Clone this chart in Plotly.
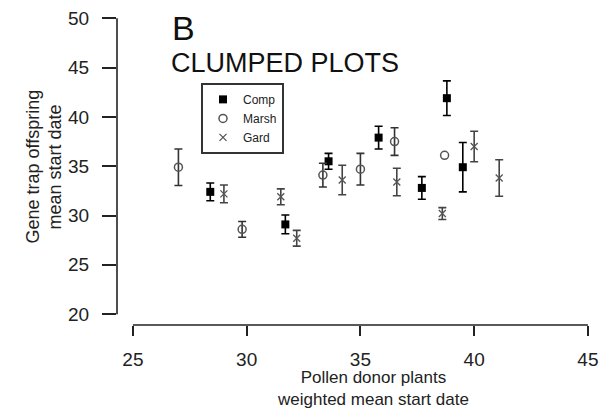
import plotly.graph_objects as go

# ---- data ----
comp_x = [28.4, 31.7, 33.6, 35.8, 37.7, 38.8, 39.5]
comp_y = [32.4, 29.1, 35.5, 37.9, 32.8, 41.9, 34.9]
comp_e = [0.9, 0.95, 0.8, 1.15, 1.15, 1.75, 2.5]

marsh_x = [27.0, 29.8, 33.35, 35.0, 36.5, 38.7]
marsh_y = [34.9, 28.6, 34.1, 34.7, 37.5, 36.1]
marsh_e = [1.85, 0.8, 1.2, 1.6, 1.4, None]   # last point has no visible bar

gard_x = [29.0, 31.5, 32.2, 34.2, 36.6, 38.6, 40.0, 41.1]
gard_y = [32.2, 31.9, 27.7, 33.6, 33.4, 30.2, 37.0, 33.8]
gard_e = [0.9, 0.8, 0.8, 1.5, 1.4, 0.6, 1.55, 1.85]

x_ticks = [25, 30, 35, 40, 45]
y_ticks = [20, 25, 30, 35, 40, 45, 50]

FONT = "Liberation Sans, Arial, Helvetica, sans-serif"
TXT = "#222222"

# plot area geometry (pixels)
L, R, T, B = 117, 22, 8, 83
W, H = 612, 408
PW, PH = W - L - R, H - T - B


def fx(px):
    return (px - L) / PW


def fy(py):
    return (H - B - py) / PH


fig = go.Figure()

fig.add_trace(go.Scatter(
    x=comp_x, y=comp_y, mode="markers", name="Comp",
    marker=dict(symbol="square", size=8, color="black"),
    error_y=dict(type="data", array=comp_e, visible=True, color="black",
                 thickness=1.6, width=4),
    cliponaxis=False,
))

marsh_marker = dict(symbol="circle-open", size=8, color="#555555",
                    line=dict(width=1.5, color="#555555"))
mi = [i for i, e in enumerate(marsh_e) if e is not None]
mn = [i for i, e in enumerate(marsh_e) if e is None]
fig.add_trace(go.Scatter(
    x=[marsh_x[i] for i in mi], y=[marsh_y[i] for i in mi], mode="markers",
    name="Marsh", legendgroup="marsh", marker=marsh_marker,
    error_y=dict(type="data", array=[marsh_e[i] for i in mi], visible=True,
                 color="#333333", thickness=1.6, width=4),
    cliponaxis=False,
))
fig.add_trace(go.Scatter(
    x=[marsh_x[i] for i in mn], y=[marsh_y[i] for i in mn], mode="markers",
    name="Marsh", legendgroup="marsh", showlegend=False, marker=marsh_marker,
    cliponaxis=False,
))

fig.add_trace(go.Scatter(
    x=gard_x, y=gard_y, mode="markers", name="Gard",
    marker=dict(symbol="x-thin-open", size=7, color="#555555",
                line=dict(width=1.3, color="#555555")),
    error_y=dict(type="data", array=gard_e, visible=True, color="#444444",
                 thickness=1.6, width=4),
    cliponaxis=False,
))

# R-style detached axis lines
fig.add_shape(type="line", xref="paper", yref="y", x0=0, x1=0, y0=20, y1=50,
              line=dict(color=TXT, width=1.6))
fig.add_shape(type="line", xref="x", yref="paper", x0=25, x1=45, y0=0, y1=0,
              line=dict(color=TXT, width=1.6))

x_rng = [24.3, 24.3 + PW / 22.75]
y_rng = [18.9, 18.9 + PH / 10.02]

fig.update_xaxes(range=x_rng, tickvals=x_ticks, ticks="outside", ticklen=10,
                 tickwidth=1.6, tickcolor=TXT, showgrid=False, zeroline=False,
                 showline=False, ticklabelstandoff=7,
                 tickfont=dict(family=FONT, size=19, color=TXT))
fig.update_yaxes(range=y_rng, tickvals=y_ticks, ticks="outside", ticklen=14,
                 tickwidth=1.6, tickcolor=TXT, showgrid=False, zeroline=False,
                 showline=False, ticklabelstandoff=9,
                 tickfont=dict(family=FONT, size=19, color=TXT))

ann = [
    dict(text="B", x=fx(170), y=fy(2), xanchor="left", yanchor="top",
         font=dict(family=FONT, size=34, color="#111111")),
    dict(text="CLUMPED PLOTS", x=fx(169), y=fy(42), xanchor="left", yanchor="top",
         font=dict(family=FONT, size=27, color="#111111")),
    dict(text="Pollen donor plants<br>weighted mean start date",
         x=fx(373), y=fy(390), xanchor="center", yanchor="middle",
         font=dict(family=FONT, size=17, color=TXT)),
    dict(text="Gene trap offspring", x=fx(33), y=fy(164), xanchor="center",
         yanchor="middle", textangle=-90, font=dict(family=FONT, size=18, color=TXT)),
    dict(text="mean start date", x=fx(55), y=fy(164), xanchor="center",
         yanchor="middle", textangle=-90, font=dict(family=FONT, size=18, color=TXT)),
]
for a in ann:
    a.update(xref="paper", yref="paper", showarrow=False)
fig.update_layout(annotations=ann)

fig.update_layout(
    width=W, height=H,
    margin=dict(l=L, r=R, t=T, b=B),
    paper_bgcolor="white", plot_bgcolor="white",
    showlegend=True,
    legend=dict(x=fx(201), y=fy(79), xanchor="left", yanchor="top",
                bgcolor="white", bordercolor="#333333", borderwidth=2,
                font=dict(family=FONT, size=12, color=TXT),
                tracegroupgap=0),
)

fig.write_html("out.html")
